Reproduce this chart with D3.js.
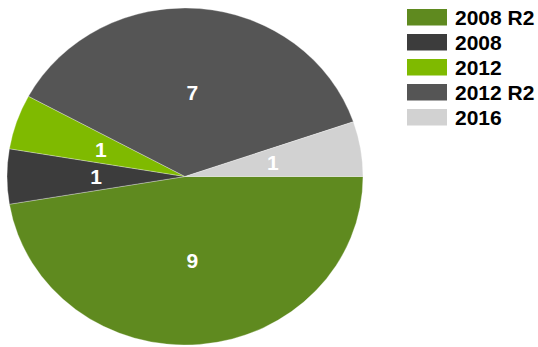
<!DOCTYPE html>
<html>
<head>
<meta charset="utf-8">
<script src="https://cdn.jsdelivr.net/npm/d3@7"></script>
<style>
  html, body { margin: 0; padding: 0; background: #fff; }
  svg { display: block; }
</style>
</head>
<body>
<svg id="chart" width="538" height="347"></svg>
<script>
const categories = ["2008 R2", "2008", "2012", "2012 R2", "2016"];
const counts = [9, 1, 1, 7, 1];
const colors = ["#5f8a1f", "#3c3c3c", "#7fba00", "#555555", "#d2d2d2"];

const svg = d3.select("#chart");
const cx = 185, cy = 176.5;
const rx = 178, ry = 168.5;

const data = categories.map((c, i) => ({ name: c, value: counts[i], color: colors[i] }));

// Slices start at 3 o'clock and run clockwise
const pie = d3.pie().sort(null).value(d => d.value)
  .startAngle(Math.PI / 2).endAngle(Math.PI / 2 + 2 * Math.PI);
const arcs = pie(data);

const arc = d3.arc().innerRadius(0).outerRadius(ry);
const labelArc = d3.arc().innerRadius(0).outerRadius(ry);

const g = svg.append("g").attr("transform", `translate(${cx},${cy})`);
const sx = rx / ry;

g.append("g").attr("transform", `scale(${sx},1)`)
  .selectAll("path").data(arcs).join("path")
  .attr("d", arc)
  .attr("fill", d => d.data.color)
  .attr("stroke", "#ffffff")
  .attr("stroke-width", 0.5)
  .attr("stroke-opacity", 0.6)
  .attr("vector-effect", "non-scaling-stroke");

g.selectAll("text.val").data(arcs).join("text")
  .attr("class", "val")
  .attr("x", d => labelArc.centroid(d)[0] * sx)
  .attr("y", d => labelArc.centroid(d)[1])
  .attr("dy", "0.36em")
  .attr("text-anchor", "middle")
  .attr("fill", "#ffffff")
  .attr("font-family", "'Liberation Sans', Arial, sans-serif")
  .attr("font-weight", "bold")
  .attr("font-size", 21)
  .text(d => d.data.value);

// Legend
const legend = svg.append("g").attr("transform", "translate(407,9)");
const row = legend.selectAll("g").data(data).join("g")
  .attr("transform", (d, i) => `translate(0,${i * 25})`);
row.append("rect")
  .attr("width", 40).attr("height", 16.5)
  .attr("fill", d => d.color);
row.append("text")
  .attr("x", 48).attr("y", 16)
  .attr("fill", "#000")
  .attr("font-family", "'Liberation Sans', Arial, sans-serif")
  .attr("font-weight", "bold")
  .attr("font-size", 21)
  .text(d => d.name);
</script>
</body>
</html>
